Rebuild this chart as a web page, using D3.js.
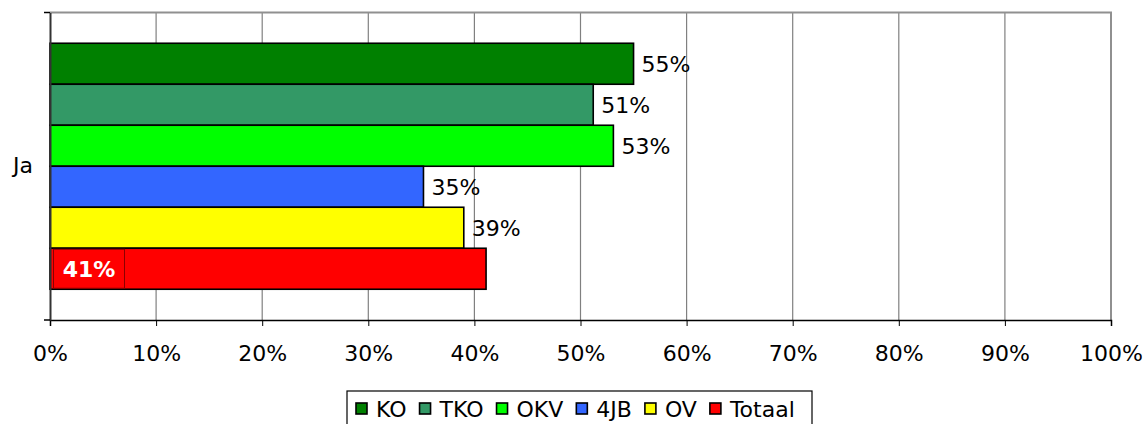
<!DOCTYPE html>
<html>
<head>
<meta charset="utf-8">
<script src="https://cdn.jsdelivr.net/npm/d3@7"></script>
<style>
  body { margin: 0; background: #fff; }
  text { font-family: "DejaVu Sans", Verdana, sans-serif; }
</style>
</head>
<body>
<div id="vis"></div>
<script>
// chart data
const categories = ['Ja']
const series = ['KO', 'TKO', 'OKV', '4JB', 'OV', 'Totaal']
const values = [0.55, 0.512, 0.531, 0.352, 0.39, 0.411]
const labels = ['55%', '51%', '53%', '35%', '39%', '41%']
const colors = ['#008000', '#339966', '#00FF00', '#3366FF', '#FFFF00', '#FF0000']
const ticks = [0, 0.1, 0.2, 0.3, 0.4, 0.5, 0.6, 0.7, 0.8, 0.9, 1]

const W = 1147, H = 424
const margin = {left: 50, top: 12.5, right: 36, bottom: 104}
const fs = 22

const svg = d3.select('#vis').append('svg')
    .attr('width', W).attr('height', H)

const x = d3.scaleLinear([0, 1], [margin.left, W - margin.right])
const y = d3.scaleBand(categories, [margin.top, H - margin.bottom])
const inner = d3.scaleBand(series, [0, y.bandwidth()]).paddingOuter(0.75).paddingInner(0)

// gridlines
svg.append('g').selectAll('line')
    .data(ticks.slice(1))
    .join('line')
    .attr('x1', d => x(d)).attr('x2', d => x(d))
    .attr('y1', margin.top).attr('y2', H - margin.bottom)
    .attr('stroke', '#808080').attr('stroke-width', 1.2)

// top + right border
svg.append('path')
    .attr('d', `M${x(0)},${margin.top}H${x(1)}V${H - margin.bottom}`)
    .attr('fill', 'none').attr('stroke', '#909090').attr('stroke-width', 2)

// bars
const g = svg.append('g').attr('transform', `translate(0,${y('Ja')})`)
g.selectAll('rect')
    .data(series)
    .join('rect')
    .attr('x', x(0))
    .attr('y', d => inner(d))
    .attr('width', (d, i) => x(values[i]) - x(0))
    .attr('height', inner.bandwidth())
    .attr('fill', (d, i) => colors[i])
    .attr('stroke', '#000').attr('stroke-width', 1.6)

// value labels
g.selectAll('.val')
    .data(series.slice(0, 5))
    .join('text')
    .attr('class', 'val')
    .attr('x', (d, i) => x(values[i]) + 8)
    .attr('y', d => inner(d) + inner.bandwidth() / 2)
    .attr('dy', '0.36em')
    .attr('font-size', fs)
    .text((d, i) => labels[i])

// Totaal label inside bar with box
const last = series[series.length - 1]
g.append('rect')
    .attr('x', x(0) + 3.5).attr('y', inner(last) + 1)
    .attr('width', 71).attr('height', inner.bandwidth() - 2)
    .attr('fill', 'none').attr('stroke', '#8B0000').attr('stroke-width', 1)
g.append('text')
    .attr('x', x(0) + 39).attr('y', inner(last) + inner.bandwidth() / 2)
    .attr('dy', '0.36em').attr('text-anchor', 'middle')
    .attr('font-size', fs).attr('font-weight', 'bold').attr('fill', '#fff')
    .text(labels[labels.length - 1])

// axes
const xAxis = d3.axisBottom(x).tickValues(ticks).tickFormat(d3.format('.0%')).tickSize(6).tickPadding(19)
svg.append('g')
    .attr('transform', `translate(0,${H - margin.bottom})`)
    .call(xAxis)
    .call(g => g.selectAll('text').attr('font-size', fs).attr('fill', '#000').attr('font-family', '"DejaVu Sans", Verdana, sans-serif'))
    .call(g => g.selectAll('line').attr('stroke', '#000'))
    .call(g => g.select('.domain').attr('stroke', '#000').attr('stroke-width', 1.5))

svg.append('g')
    .attr('transform', `translate(${margin.left},0)`)
    .call(d3.axisLeft(y).tickSize(0).tickPadding(17))
    .call(g => g.selectAll('text').attr('font-size', fs).attr('fill', '#000').attr('font-family', '"DejaVu Sans", Verdana, sans-serif'))
    .call(g => g.select('.domain').attr('stroke', '#333').attr('stroke-width', 2))

// left axis end ticks
svg.append('g').selectAll('line')
    .data([margin.top, H - margin.bottom])
    .join('line')
    .attr('x1', margin.left - 6).attr('x2', margin.left)
    .attr('y1', d => d).attr('y2', d => d)
    .attr('stroke', '#000').attr('stroke-width', 1.5)

// legend
const lg = svg.append('g').attr('transform', 'translate(347,391)')
lg.append('rect')
    .attr('x', 0).attr('y', 0).attr('width', 465).attr('height', 40)
    .attr('fill', '#fff').attr('stroke', '#000').attr('stroke-width', 1.2)
let lx = 9
series.forEach((s, i) => {
    lg.append('rect')
        .attr('x', lx).attr('y', 12).attr('width', 11).attr('height', 11)
        .attr('fill', colors[i]).attr('stroke', '#000').attr('stroke-width', 1.6)
    const t = lg.append('text')
        .attr('x', lx + 20).attr('y', 18).attr('dy', '0.36em')
        .attr('font-size', fs).text(s)
    lx += 20 + t.node().getComputedTextLength() + 13
})
</script>
</body>
</html>
